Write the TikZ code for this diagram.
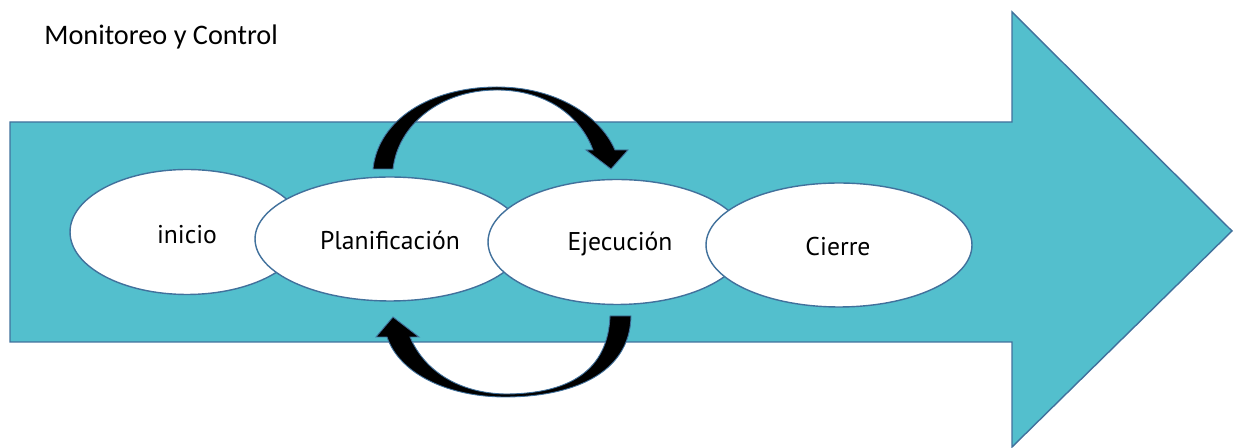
\documentclass[tikz,border=0pt]{standalone}
\usepackage{fontspec}
\setmainfont{Carlito}
\newfontfamily\labelfont{PT Sans}
\usetikzlibrary{shapes.geometric}
\definecolor{teal5}{RGB}{83,191,205}
\definecolor{edgeblue}{RGB}{65,113,156}
\tikzset{
  phase/.style={ellipse, draw=edgeblue, line width=0.8pt, fill=white, inner sep=0pt},
  phaselabel/.style={inner sep=0pt, font=\labelfont\fontsize{14.6}{17}\selectfont},
  bigarrow/.style={fill=teal5, draw=edgeblue, line width=0.8pt},
  loopshape/.style={fill=black, draw=edgeblue, line width=0.5pt}
}
\begin{document}
\begin{tikzpicture}[x=0.02cm, y=-0.02cm]
\useasboundingbox (0,0) rectangle (1235,448);
% main arrow
\draw[bigarrow] (10,122) -- (1012,122) -- (1012,12) -- (1232,231) -- (1012,447) -- (1012,342) -- (10,342) -- cycle;
% title
\node[anchor=base west, inner sep=0pt, font=\fontsize{16.1}{19}\selectfont] (title) at (44,45) {Monitoreo y Control};
% phases
\node[phase, minimum width=4.68cm, minimum height=2.5cm] (ini) at (187,232) {};
\node[phase, minimum width=5.4cm, minimum height=2.48cm] (pla) at (390,239) {};
\node[phase, minimum width=5.16cm, minimum height=2.5cm] (eje) at (617,242) {};
\node[phase, minimum width=5.32cm, minimum height=2.48cm] (cie) at (839,245) {};
\node[phaselabel] (tini) at (187,235) {inicio};
\node[phaselabel] (tpla) at (390,240) {Planificación};
\node[phaselabel] (teje) at (620,244) {Ejecución};
\node[phaselabel] (tcie) at (838,247) {Cierre};
% top curved arrow (Planificacion -> Ejecucion)
\draw[loopshape] (373,169) .. controls (378,120) and (430,87) .. (497,87)
  .. controls (555,87) and (600,115) .. (615,150)
  -- (628,150) -- (611,169) -- (586,150) -- (593,150)
  .. controls (580,115) and (545,90) .. (497,90)
  .. controls (440,90) and (398,125) .. (393,169) -- cycle;
% bottom curved arrow (Ejecucion -> Planificacion)
\draw[loopshape] (631,316) .. controls (630,375) and (570,397) .. (505,397)
  .. controls (450,397) and (400,375) .. (387,337)
  -- (376,337) -- (393,317) -- (419,337) -- (410,337)
  .. controls (425,372) and (460,393) .. (505,394)
  .. controls (570,394) and (608,370) .. (610,316) -- cycle;
\end{tikzpicture}
\end{document}
